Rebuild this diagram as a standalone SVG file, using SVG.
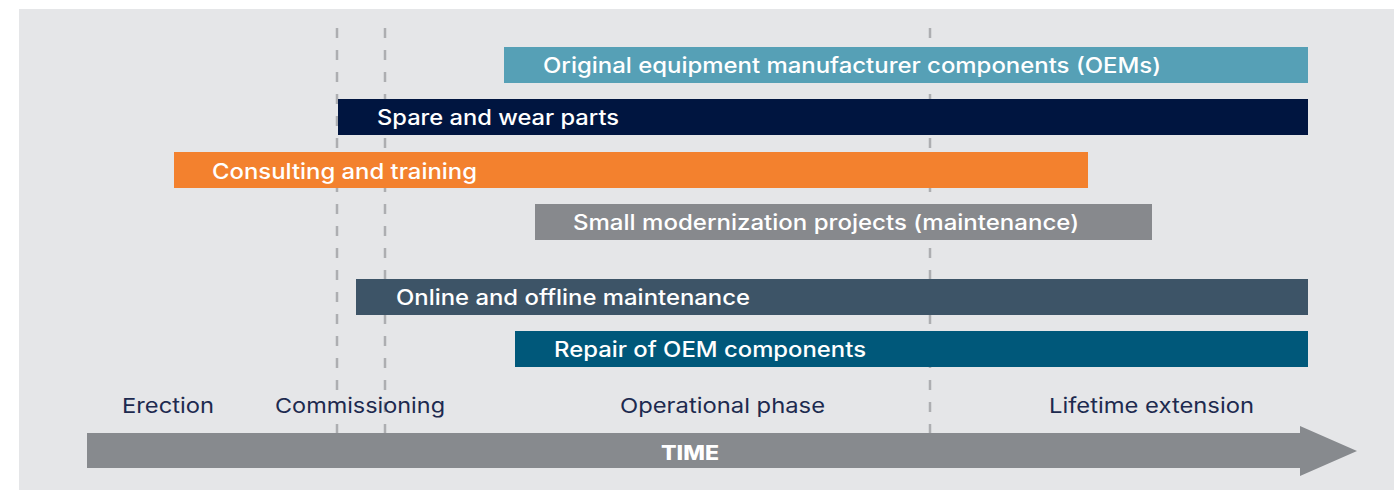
<svg xmlns="http://www.w3.org/2000/svg" width="1399" height="490" viewBox="0 0 1399 490">
<style>
.bar-t{font-family:Inter,"Noto Sans","Liberation Sans",sans-serif;font-weight:500;font-size:21px;fill:#ffffff}
.ph{font-family:Inter,"Noto Sans","Liberation Sans",sans-serif;font-weight:400;font-size:20.5px;fill:#1d2a4f}
.time{font-family:Inter,"Noto Sans","Liberation Sans",sans-serif;font-weight:800;font-size:20px;fill:#ffffff}
.dash{stroke:#adaeb1;stroke-width:2.5;stroke-dasharray:10 12;fill:none}
</style>
<rect x="0" y="0" width="1399" height="490" fill="#ffffff"/>
<rect x="19" y="9" width="1375" height="481" fill="#e5e6e8"/>
<g id="connectors">
<line class="dash" x1="337" y1="28" x2="337" y2="433"/>
<line class="dash" x1="385" y1="28" x2="385" y2="433"/>
<line class="dash" x1="930" y1="28" x2="930" y2="433"/>
</g>
<g id="oem"><rect x="504" y="47" width="804" height="36" fill="#56a0b6"/><text class="bar-t" x="543" y="73" textLength="618" lengthAdjust="spacingAndGlyphs">Original equipment manufacturer components (OEMs)</text></g>
<g id="spare"><rect x="338" y="99" width="970" height="36" fill="#001540"/><text class="bar-t" x="377" y="125" textLength="242" lengthAdjust="spacingAndGlyphs">Spare and wear parts</text></g>
<g id="consulting"><rect x="174" y="152" width="914" height="36" fill="#f3812e"/><text class="bar-t" x="212" y="179" textLength="265" lengthAdjust="spacingAndGlyphs">Consulting and training</text></g>
<g id="small"><rect x="535" y="204" width="617" height="36" fill="#87898d"/><text class="bar-t" x="573" y="230" textLength="506" lengthAdjust="spacingAndGlyphs">Small modernization projects (maintenance)</text></g>
<g id="online"><rect x="356" y="279" width="952" height="36" fill="#3d5467"/><text class="bar-t" x="396" y="305" textLength="354" lengthAdjust="spacingAndGlyphs">Online and offline maintenance</text></g>
<g id="repair"><rect x="515" y="331" width="793" height="36" fill="#00587a"/><text class="bar-t" x="554" y="357" textLength="312" lengthAdjust="spacingAndGlyphs">Repair of OEM components</text></g>
<g id="phases">
<text class="ph" x="122" y="413" textLength="92" lengthAdjust="spacingAndGlyphs">Erection</text>
<text class="ph" x="275" y="413" textLength="170" lengthAdjust="spacingAndGlyphs">Commissioning</text>
<text class="ph" x="620" y="413" textLength="205" lengthAdjust="spacingAndGlyphs">Operational phase</text>
<text class="ph" x="1049" y="413" textLength="205" lengthAdjust="spacingAndGlyphs">Lifetime extension</text>
</g>
<g id="time-arrow">
<polygon points="87,433 1300,433 1300,426 1357,451 1300,476 1300,468 87,468" fill="#878a8e"/>
<text class="time" x="661" y="460" textLength="58" lengthAdjust="spacingAndGlyphs">TIME</text>
</g>
</svg>
